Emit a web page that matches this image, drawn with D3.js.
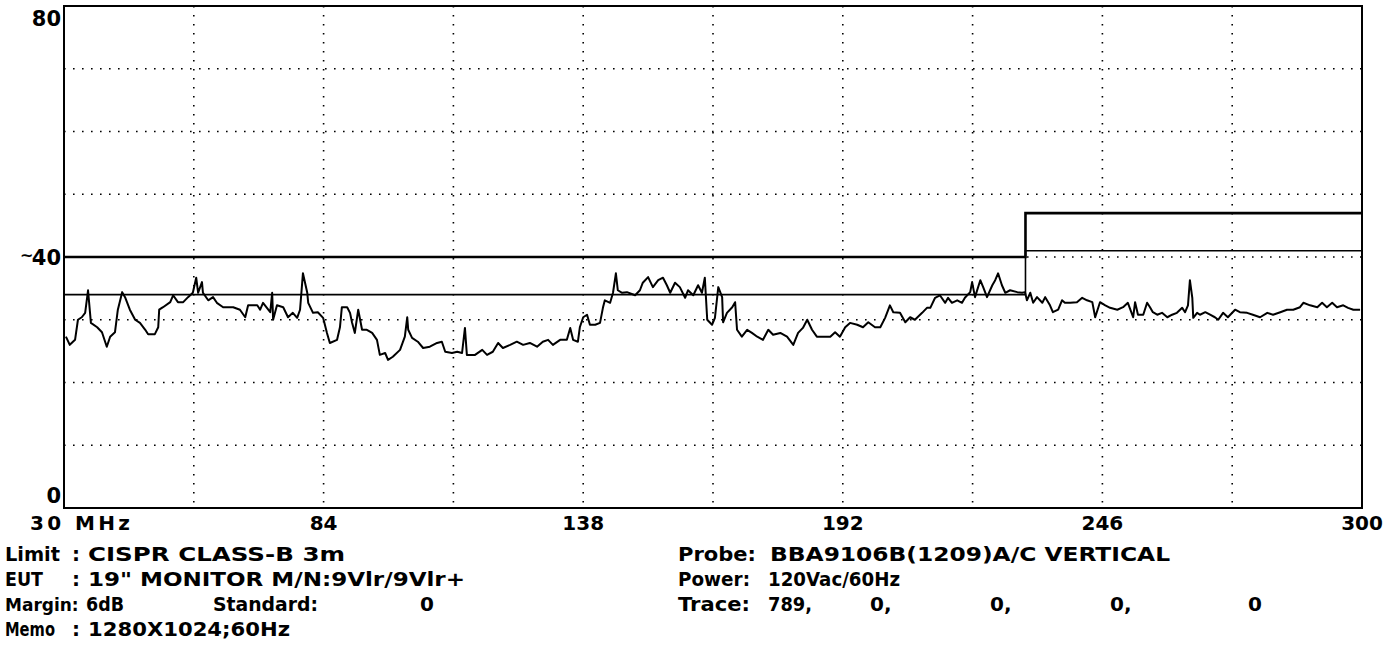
<!DOCTYPE html>
<html>
<head>
<meta charset="utf-8">
<script src="https://d3js.org/d3.v7.min.js"></script>
<style>
  html, body { margin: 0; padding: 0; background: #fff; }
  svg { display: block; }
  text { font-family: "DejaVu Sans", sans-serif; font-weight: bold; fill: #000; }
</style>
</head>
<body>
<svg id="chart" width="1398" height="658"></svg>
<script>
"use strict";

// scan trace (MHz / dBuV/m)
var freqMHz = [30.4, 31.2, 32.3, 32.9, 33.7, 34.4, 35.0, 35.6, 36.9, 37.9, 38.9, 39.6, 40.6, 41.2, 42.1, 42.7, 43.7, 44.8, 45.8, 46.9,
    47.5, 48.9, 49.6, 49.8, 50.6, 52.1, 52.7, 53.7, 54.8, 55.8, 56.8, 57.5, 57.9, 58.7, 58.9, 60.0, 61.0, 61.8, 63.1, 65.2,
    66.6, 67.7, 68.3, 70.2, 70.8, 71.4, 72.9, 73.3, 73.5, 74.3, 75.6, 76.6, 77.6, 78.5, 79.1, 79.7, 80.6, 80.8, 81.8, 82.8,
    83.9, 84.7, 85.3, 86.8, 87.4, 87.8, 88.9, 89.5, 89.9, 90.5, 91.2, 92.0, 93.0, 94.1, 95.1, 95.7, 96.8, 97.4, 98.4, 99.9,
    100.9, 101.4, 101.6, 102.4, 103.6, 104.7, 106.1, 107.6, 108.6, 109.3, 110.7, 111.8, 112.8, 113.4, 113.8, 115.5, 117.0, 118.0, 119.2, 120.3,
    121.3, 122.8, 124.2, 125.5, 126.9, 128.4, 129.6, 130.7, 131.7, 133.2, 134.6, 135.3, 135.9, 136.9, 137.3, 138.0, 138.8, 139.4, 140.5, 141.5,
    142.1, 142.5, 143.6, 144.2, 144.8, 145.2, 146.1, 147.1, 148.8, 149.8, 150.4, 151.5, 152.5, 153.6, 154.6, 155.4, 156.1, 157.1, 158.1, 159.2,
    159.8, 160.9, 161.9, 162.7, 163.3, 163.8, 164.8, 165.4, 166.1, 166.9, 167.1, 167.9, 169.0, 169.6, 170.0, 171.0, 172.1, 173.1, 174.2, 175.4,
    176.5, 177.5, 179.0, 180.4, 181.7, 182.7, 183.7, 184.6, 185.6, 186.6, 187.9, 189.4, 190.4, 191.4, 192.5, 193.5, 195.0, 196.2, 197.3, 198.7,
    199.8, 200.8, 201.8, 202.5, 203.9, 205.0, 206.0, 207.0, 208.5, 209.5, 210.2, 211.2, 212.2, 213.3, 213.9, 214.7, 215.8, 216.8, 217.4, 218.5,
    218.9, 219.5, 220.6, 221.2, 222.0, 223.1, 223.7, 224.3, 225.1, 225.8, 226.8, 228.3, 229.3, 229.9, 230.3, 231.0, 231.6, 232.4, 233.5, 234.1,
    235.1, 235.7, 236.8, 237.6, 238.2, 239.3, 240.7, 241.8, 242.8, 243.9, 244.5, 245.5, 246.6, 247.6, 249.1, 250.3, 251.3, 252.4, 252.8, 253.4,
    254.5, 255.3, 255.9, 256.5, 257.4, 258.4, 259.5, 260.5, 261.5, 262.6, 263.2, 263.8, 264.2, 264.7, 264.9, 265.7, 266.3, 267.4, 268.4, 269.4,
    270.1, 271.1, 272.1, 273.6, 274.6, 276.1, 277.3, 278.8, 280.3, 281.5, 283.0, 284.4, 285.7, 287.1, 287.8, 289.2, 290.7, 291.7, 292.7, 293.8,
    294.8, 296.1, 297.1, 298.2, 299.6];
var levelDb = [27.3, 26.0, 26.8, 30.0, 30.4, 31.1, 34.7, 29.5, 28.8, 28.0, 25.7, 27.3, 28.0, 31.6, 34.4, 33.6, 31.6, 30.0, 29.5, 28.4,
    27.7, 27.7, 28.8, 31.6, 32.0, 32.8, 33.9, 32.8, 32.8, 33.6, 34.3, 36.7, 34.3, 36.0, 34.3, 33.1, 33.6, 32.7, 32.0, 32.0,
    31.6, 30.4, 32.3, 32.3, 31.6, 32.7, 31.2, 34.3, 30.0, 32.3, 32.0, 30.4, 31.1, 30.3, 31.6, 37.4, 34.3, 32.7, 31.1, 31.2,
    30.3, 27.9, 26.3, 26.8, 28.8, 32.0, 32.0, 31.1, 29.6, 27.9, 31.6, 28.4, 28.4, 27.9, 26.8, 24.4, 24.7, 23.6, 24.1, 25.2,
    27.3, 30.4, 28.4, 27.1, 26.5, 25.5, 25.7, 26.3, 26.5, 24.9, 24.7, 24.9, 24.7, 28.7, 24.4, 24.4, 25.2, 24.4, 24.9, 26.3,
    25.5, 26.0, 26.5, 26.0, 26.3, 25.7, 26.5, 26.8, 26.0, 26.8, 26.8, 28.7, 26.8, 26.5, 28.8, 30.4, 30.8, 29.2, 29.2, 29.5,
    31.9, 33.1, 32.7, 34.3, 37.4, 34.7, 34.3, 34.4, 33.9, 34.7, 35.9, 36.8, 35.2, 36.3, 36.7, 35.5, 34.3, 35.9, 35.2, 33.5,
    34.7, 33.9, 35.5, 34.3, 36.7, 30.0, 29.2, 30.3, 35.2, 33.6, 29.6, 31.1, 32.0, 32.8, 28.4, 27.3, 28.4, 27.9, 27.3, 26.8,
    28.4, 27.6, 27.9, 27.3, 26.0, 27.9, 28.7, 30.0, 28.4, 27.3, 27.3, 27.3, 28.0, 27.3, 28.8, 29.5, 29.2, 28.8, 29.6, 28.8,
    28.8, 30.3, 32.3, 31.2, 31.1, 29.6, 30.4, 30.0, 31.1, 31.9, 31.9, 33.5, 33.9, 32.7, 33.5, 32.7, 33.1, 32.7, 33.5, 34.4,
    36.0, 33.6, 36.3, 35.2, 33.6, 35.5, 36.3, 37.4, 35.5, 34.3, 34.7, 34.4, 34.3, 34.4, 33.1, 34.3, 32.7, 33.6, 32.7, 33.6,
    32.3, 31.2, 31.6, 33.1, 32.7, 32.7, 32.8, 33.5, 33.1, 32.8, 30.4, 32.8, 32.3, 31.9, 31.6, 32.0, 32.7, 30.4, 32.8, 30.8,
    30.8, 32.7, 32.0, 31.2, 30.8, 31.1, 30.4, 30.8, 31.1, 31.9, 31.2, 32.3, 36.3, 33.5, 30.3, 31.1, 30.8, 31.2, 30.8, 30.4,
    30.0, 31.1, 30.4, 31.6, 31.2, 31.1, 30.8, 30.4, 31.1, 30.8, 31.2, 31.6, 31.6, 32.0, 32.7, 32.3, 32.0, 32.7, 32.0, 32.7,
    32.0, 32.3, 31.9, 31.6, 31.6];

// CISPR class B 3 m limit and the 6 dB margin below it
var limitFreq = [30, 230, 230, 300];
var limitDb = [40, 40, 47, 47];
var marginDb = 6;

var xTicks = [30, 84, 138, 192, 246, 300];
var xGrid = [57, 84, 111, 138, 165, 192, 219, 246, 273];
var yTicks = [80, 40, 0];
var yGrid = [10, 20, 30, 40, 50, 60, 70];

var svg = d3.select("#chart");
var plot = { left: 64, right: 1362, top: 6, bottom: 508 };

var x = d3.scaleLinear().domain([30, 300]).range([plot.left, plot.right]);
var y = d3.scaleLinear().domain([0, 80]).range([plot.bottom, plot.top]);

// dotted grid
svg.append("g").selectAll("line").data(yGrid).enter().append("line")
    .attr("x1", plot.left).attr("x2", plot.right)
    .attr("y1", (d) => y(d)).attr("y2", (d) => y(d))
    .attr("stroke", "#000").attr("stroke-width", 1.6).attr("stroke-dasharray", "1.6,7.4");
svg.append("g").selectAll("line").data(xGrid).enter().append("line")
    .attr("x1", (d) => x(d)).attr("x2", (d) => x(d))
    .attr("y1", plot.top).attr("y2", plot.bottom)
    .attr("stroke", "#000").attr("stroke-width", 1.6).attr("stroke-dasharray", "1.6,7.4");

// frame
svg.append("rect")
    .attr("x", plot.left).attr("y", plot.top)
    .attr("width", plot.right - plot.left).attr("height", plot.bottom - plot.top)
    .attr("fill", "none").attr("stroke", "#000").attr("stroke-width", 2);

// limit and margin lines
var limitLine = d3.line().x((d, i) => x(limitFreq[i])).y((d) => y(d));
svg.append("path").datum(limitDb).attr("d", limitLine)
    .attr("fill", "none").attr("stroke", "#000").attr("stroke-width", 2.6);
svg.append("path").datum(limitDb.map((d) => d - marginDb)).attr("d", limitLine)
    .attr("fill", "none").attr("stroke", "#000").attr("stroke-width", 1.6);

// measured trace
var trace = d3.line().x((d, i) => x(freqMHz[i])).y((d) => y(d));
svg.append("path").datum(levelDb).attr("d", trace)
    .attr("fill", "none").attr("stroke", "#000").attr("stroke-width", 2)
    .attr("stroke-linejoin", "round");

// axis labels
svg.append("g").selectAll("text").data(xTicks).enter().append("text")
    .attr("x", (d, i) => i == 0 ? x(d) - 34 : x(d))
    .attr("y", 530)
    .attr("text-anchor", (d, i) => i == 0 ? "start" : "middle")
    .style("font-size", "20px")
    .each(function (d, i) {
        if (i == 0) d3.select(this).attr("textLength", 100).attr("lengthAdjust", "spacing");
    })
    .text((d, i) => i == 0 ? d + " MHz" : d);

svg.append("g").selectAll("text").data(yTicks).enter().append("text")
    .attr("x", 61)
    .attr("y", (d) => Math.min(Math.max(y(d) + 8, plot.top + 20), plot.bottom - 5))
    .attr("text-anchor", "end")
    .style("font-size", "21px")
    .text((d) => d);
svg.append("text").attr("x", 20).attr("y", y(40) + 4).style("font-size", "16px").text("~");

// footer text
var footer = [
    { x: 5, y: 561, w: 55, t: "Limit" }, { x: 72, y: 561, t: ":" }, { x: 88, y: 561, w: 257, t: "CISPR CLASS-B 3m" },
    { x: 5, y: 586, w: 38, t: "EUT" }, { x: 72, y: 586, t: ":" }, { x: 88, y: 586, w: 377, t: "19\" MONITOR M/N:9Vlr/9Vlr+" },
    { x: 5, y: 611, s: 17, t: "Margin:" }, { x: 86, y: 611, w: 38, t: "6dB" }, { x: 213, y: 611, w: 105, t: "Standard:" }, { x: 420, y: 611, t: "0" },
    { x: 5, y: 636, w: 50, t: "Memo" }, { x: 72, y: 636, t: ":" }, { x: 88, y: 636, w: 202, t: "1280X1024;60Hz" },
    { x: 678, y: 561, w: 78, t: "Probe:" }, { x: 770, y: 561, w: 400, t: "BBA9106B(1209)A/C VERTICAL" },
    { x: 678, y: 586, w: 72, t: "Power:" }, { x: 768, y: 586, w: 132, t: "120Vac/60Hz" },
    { x: 678, y: 611, w: 72, t: "Trace:" }, { x: 768, y: 611, w: 44, t: "789," }, { x: 870, y: 611, t: "0," },
    { x: 990, y: 611, t: "0," }, { x: 1110, y: 611, t: "0," }, { x: 1248, y: 611, t: "0" }
];
svg.append("g").selectAll("text").data(footer).enter().append("text")
    .attr("x", (d) => d.x).attr("y", (d) => d.y)
    .style("font-size", (d) => (d.s || 20) + "px")
    .each(function (d) {
        if (d.w) d3.select(this).attr("textLength", d.w).attr("lengthAdjust", "spacingAndGlyphs");
    })
    .text((d) => d.t);
</script>
</body>
</html>
